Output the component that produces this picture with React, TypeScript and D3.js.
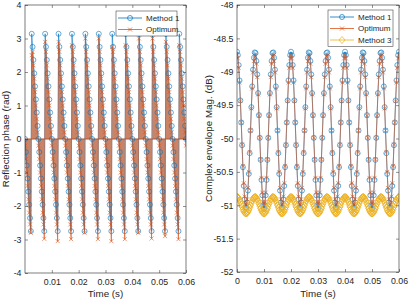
import * as d3 from "d3";
import React, { useEffect, useRef } from "react";

// sample grid (s)
const sampleStep = 0.0003125;
const sampleCount = 193;

// left panel, reflection phase (rad), one 16-sample cycle
const phaseMethod1 = [0, -0.39, -0.79, -1.18, -1.57, -1.96, -2.36, -2.75, 3.14, 2.75, 2.36, 1.96, 1.57, 1.18, 0.79, 0.39];
const phaseOptimum = [-0.2, -0.6, -1.0, -1.4, -1.8, -2.2, -2.55, -2.9, 2.9, 2.6, 2.2, 1.8, 1.4, 1.0, 0.6, 0.2];
// optimum values right before / after each wrap, per column
const optimumBottoms = [-2.8, -2.98, -3.05, -2.99, -2.8, -2.99, -3.05, -2.99, -2.8, -2.97, -2.9, -2.99];
const optimumTops = [2.5, 2.9, 2.9, 2.8, 3.0, 3.0, 2.75, 2.8, 3.0, 3.0, 2.9, 2.8];

// right panel, complex envelope magnitude (dB), 64 samples = 3 periods
const magMethod1 = [
  -48.7, -48.75, -48.9, -49.13, -49.43, -49.76, -50.1, -50.43, -50.71, -50.91, -51.03, -51.04, -50.96, -50.78, -50.53, -50.22,
  -49.88, -49.53, -49.22, -48.97, -48.79, -48.71, -48.72, -48.84, -49.04, -49.32, -49.65, -49.99, -50.32, -50.62, -50.85, -51.0,
  -51.05, -51.0, -50.85, -50.62, -50.32, -49.99, -49.65, -49.32, -49.04, -48.84, -48.72, -48.71, -48.79, -48.97, -49.22, -49.53,
  -49.88, -50.22, -50.53, -50.78, -50.96, -51.04, -51.03, -50.91, -50.71, -50.43, -50.1, -49.76, -49.43, -49.13, -48.9, -48.75,
];
const magOptimum = [
  -48.75, -48.8, -48.94, -49.16, -49.44, -49.76, -50.09, -50.41, -50.67, -50.87, -50.98, -50.99, -50.91, -50.74, -50.5, -50.2,
  -49.88, -49.55, -49.25, -49.01, -48.84, -48.76, -48.77, -48.88, -49.08, -49.34, -49.66, -49.99, -50.31, -50.59, -50.81, -50.95,
  -51.0, -50.95, -50.81, -50.59, -50.31, -49.99, -49.66, -49.34, -49.08, -48.88, -48.77, -48.76, -48.84, -49.01, -49.25, -49.55,
  -49.88, -50.2, -50.5, -50.74, -50.91, -50.99, -50.98, -50.87, -50.67, -50.41, -50.09, -49.76, -49.44, -49.16, -48.94, -48.8,
];
const magMethod3 = [
  -50.875, -50.88, -50.896, -50.921, -50.952, -50.988, -51.024, -51.059, -51.088, -51.11, -51.123, -51.124, -51.116, -51.097, -51.069, -51.036,
  -51.0, -50.964, -50.931, -50.903, -50.885, -50.876, -50.877, -50.89, -50.912, -50.941, -50.976, -51.012, -51.048, -51.079, -51.104, -51.12,
  -51.125, -51.12, -51.104, -51.079, -51.048, -51.012, -50.976, -50.941, -50.912, -50.89, -50.877, -50.876, -50.885, -50.903, -50.931, -50.964,
  -51.0, -51.036, -51.069, -51.097, -51.116, -51.124, -51.123, -51.11, -51.088, -51.059, -51.024, -50.988, -50.952, -50.921, -50.896, -50.88,
];

const phaseTicks = [-4, -3, -2, -1, 0, 1, 2, 3, 4];
const magTicks = [-52, -51.5, -51, -50.5, -50, -49.5, -49, -48.5, -48];
const timeTicksLeft = [0.01, 0.02, 0.03, 0.04, 0.05, 0.06];
const timeTicksRight = [0, 0.01, 0.02, 0.03, 0.04, 0.05, 0.06];

const BLUE = "#0072BD";
const ORANGE = "#D95319";
const YELLOW = "#EDB120";
const INK = "#262626";
const FONT = "'Liberation Sans', Arial, sans-serif";

type Pt = [number, number];
type G = d3.Selection<SVGGElement, unknown, null, undefined>;
type Scale = d3.ScaleLinear<number, number>;

const times = d3.range(sampleCount).map((i) => i * sampleStep);
const tile = (cycle: number[]) => times.map((_, i) => cycle[i % cycle.length]);

const App: React.FC = () => {
  const svgRef = useRef<SVGSVGElement>(null);

  useEffect(() => {
    const svg = d3.select(svgRef.current);
    svg.selectAll("*").remove();

    const xL = d3.scaleLinear().domain([0, 0.06]).range([25, 186]);
    const yL = d3.scaleLinear().domain([-4, 4]).range([273, 5]);
    const xR = d3.scaleLinear().domain([0, 0.06]).range([237, 399]);
    const yR = d3.scaleLinear().domain([-52, -48]).range([272, 5]);

    const m1 = tile(phaseMethod1);
    const opt = times.map((_, i) => {
      const c = i % 16;
      const col = Math.floor(i / 16);
      if (c === 7 && col < optimumBottoms.length) return optimumBottoms[col];
      if (c === 8 && col < optimumTops.length) return optimumTops[col];
      return phaseOptimum[c];
    });

    const frame = (g: G, x: Scale, y: Scale, clipId: string) => {
      const [x0, x1] = x.range();
      const [yb, yt] = y.range();
      g.append("rect").attr("x", x0).attr("y", yt).attr("width", x1 - x0).attr("height", yb - yt).attr("fill", "#fff");
      svg
        .append("clipPath")
        .attr("id", clipId)
        .append("rect")
        .attr("x", x0)
        .attr("y", yt)
        .attr("width", x1 - x0)
        .attr("height", yb - yt);
      return g.append("g").attr("clip-path", `url(#${clipId})`);
    };

    const axes = (g: G, x: Scale, y: Scale, xTicks: number[], yTicks: number[]) => {
      const [x0, x1] = x.range();
      const [yb, yt] = y.range();
      const style = (a: G) => {
        a.select(".domain").remove();
        a.selectAll("line").attr("stroke", INK).attr("stroke-width", 0.5);
        a.selectAll("text").attr("fill", INK).style("font-family", FONT).style("font-size", "8.8px");
        a.attr("font-family", null).attr("font-size", null);
      };
      g.append("g").attr("transform", `translate(${x0},0)`)
        .call(d3.axisLeft(y).tickValues(yTicks).tickSize(-3).tickPadding(3.5).tickFormat((d) => String(d)))
        .call(style);
      g.append("g").attr("transform", `translate(${x1},0)`)
        .call(d3.axisRight(y).tickValues(yTicks).tickSize(-3).tickFormat(() => ""))
        .call(style);
      g.append("g").attr("transform", `translate(0,${yb})`)
        .call(d3.axisBottom(x).tickValues(xTicks).tickSize(-3).tickPadding(5.5).tickFormat((d) => String(d)))
        .call(style);
      g.append("g").attr("transform", `translate(0,${yt})`)
        .call(d3.axisTop(x).tickValues(xTicks).tickSize(-3).tickFormat(() => ""))
        .call(style);
      g.append("rect")
        .attr("x", x0).attr("y", yt).attr("width", x1 - x0).attr("height", yb - yt)
        .attr("fill", "none").attr("stroke", INK).attr("stroke-width", 0.6);
    };

    const series = (g: G, pts: Pt[], x: Scale, y: Scale, color: string, marker: string, mw = 0.6) => {
      const line = d3.line<Pt>().x((d) => x(d[0])).y((d) => y(d[1]));
      g.append("path").attr("d", line(pts)).attr("fill", "none").attr("stroke", color).attr("stroke-width", 0.6);
      g.selectAll(null)
        .data(pts)
        .join("path")
        .attr("transform", (d) => `translate(${x(d[0])},${y(d[1])})`)
        .attr("d", marker)
        .attr("fill", "none")
        .attr("stroke", color)
        .attr("stroke-width", mw);
    };

    const circle = "M2.5,0A2.5,2.5 0 1,1 -2.5,0A2.5,2.5 0 1,1 2.5,0Z";
    const cross = "M-2,-2L2,2M-2,2L2,-2";
    const diamond = "M0,-3.5L3,0L0,3.5L-3,0Z";

    const text = (g: G, s: string, x: number, y: number, size: number, anchor = "start", rot = 0) =>
      g.append("text")
        .attr("transform", `translate(${x},${y}) rotate(${rot})`)
        .attr("text-anchor", anchor)
        .attr("fill", INK)
        .style("font-family", FONT)
        .style("font-size", `${size}px`)
        .text(s);

    const legend = (g: G, x: number, y: number, w: number, rows: [string, string, string][]) => {
      g.append("rect").attr("x", x).attr("y", y).attr("width", w).attr("height", rows.length * 11.5 + 2)
        .attr("fill", "#fff").attr("stroke", INK).attr("stroke-width", 0.5);
      rows.forEach(([label, color, marker], i) => {
        const cy = y + 7 + i * 11.5;
        g.append("line").attr("x1", x + 2).attr("x2", x + 26).attr("y1", cy).attr("y2", cy)
          .attr("stroke", color).attr("stroke-width", 0.8);
        g.append("path").attr("transform", `translate(${x + 14},${cy})`).attr("d", marker)
          .attr("fill", "none").attr("stroke", color).attr("stroke-width", 0.7);
        text(g, label, x + 30, cy + 2.8, 8);
      });
    };

    // left panel
    const left = svg.append("g") as unknown as G;
    const plotL = frame(left, xL, yL, "clipL");
    const segs: Pt[][] = [[]];
    opt.forEach((v, i) => {
      if (i > 0 && Math.abs(v - opt[i - 1]) > Math.PI) segs.push([]);
      segs[segs.length - 1].push([times[i], v]);
    });
    const area = d3.area<Pt>().x((d) => xL(d[0])).y0(yL(0)).y1((d) => yL(d[1]));
    plotL.selectAll(null).data(segs).join("path")
      .attr("d", (d) => area(d))
      .attr("fill", "#bb6440")
      .attr("fill-opacity", 0.8);
    plotL.append("line").attr("x1", xL(0)).attr("x2", xL(0.06)).attr("y1", yL(0)).attr("y2", yL(0))
      .attr("stroke", "#b5532a").attr("stroke-width", 1);
    series(plotL, times.map((t, i) => [t, m1[i]] as Pt), xL, yL, BLUE, circle);
    series(plotL, times.map((t, i) => [t, opt[i]] as Pt), xL, yL, ORANGE, cross);
    axes(left, xL, yL, timeTicksLeft, phaseTicks);
    legend(left, 116, 11, 61, [["Method 1", BLUE, circle], ["Optimum", ORANGE, cross]]);
    text(left, "Time (s)", 105.5, 296.5, 9.8, "middle");
    text(left, "Reflection phase (rad)", 8.5, 139, 9.8, "middle", -90);

    // right panel
    const right = svg.append("g") as unknown as G;
    const plotR = frame(right, xR, yR, "clipR");
    series(plotR, times.map((t, i) => [t, tile(magMethod1)[i]] as Pt), xR, yR, BLUE, circle);
    series(plotR, times.map((t, i) => [t, tile(magOptimum)[i]] as Pt), xR, yR, ORANGE, cross);
    series(plotR, times.map((t, i) => [t, tile(magMethod3)[i]] as Pt), xR, yR, YELLOW, diamond, 0.9);
    axes(right, xR, yR, timeTicksRight, magTicks);
    legend(right, 328, 10, 65, [["Method 1", BLUE, circle], ["Optimum", ORANGE, cross], ["Method 3", YELLOW, diamond]]);
    text(right, "Time (s)", 318, 296.5, 9.8, "middle");
    text(right, "Complex envelope Mag. (dB)", 211.5, 138.5, 9.8, "middle", -90);
  }, []);

  return (
    <svg
      ref={svgRef}
      width={409}
      height={300}
      style={{ position: "absolute", left: 0, top: 0, background: "#fff" }}
    />
  );
};

export default App;
